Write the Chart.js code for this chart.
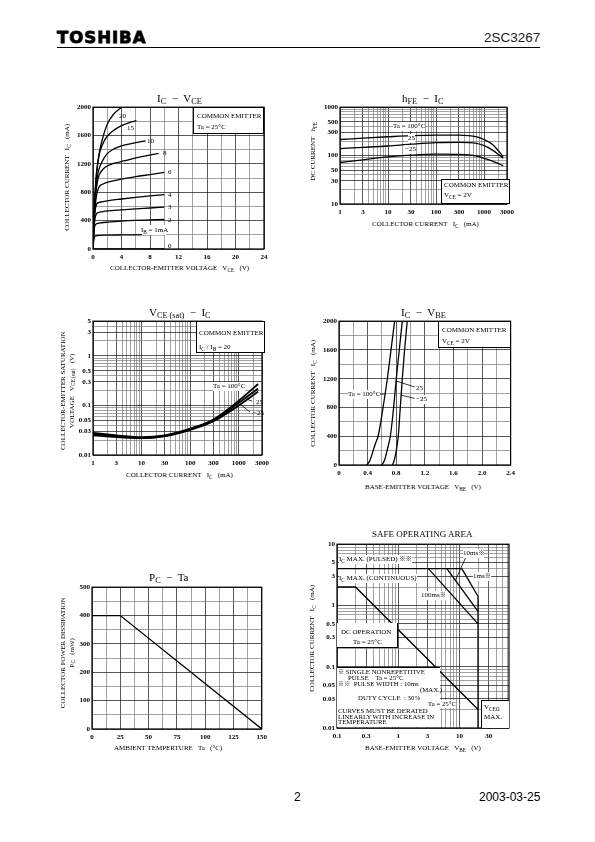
<!DOCTYPE html>
<html>
<head>
<meta charset="utf-8">
<script src="https://cdn.jsdelivr.net/npm/chart.js@4.4.1/dist/chart.umd.min.js"></script>
<style>
body { margin: 0; background: #fff; }
#page { position: relative; width: 595px; height: 842px; overflow: hidden; font-family: "Liberation Serif", serif; color: #000; background: #fff; filter: grayscale(1); }
canvas, .t, .bx { position: absolute; }
.t { white-space: nowrap; font-size: 7px; line-height: 1.25; text-align: center; }
sub { font-size: 0.75em; vertical-align: -0.3em; line-height: 0; }
.k { font-family: "Noto Sans CJK JP"; font-size: 0.9em; }
.bx { background: #fff; box-sizing: border-box; border: 1px solid #000; }
</style>
</head>
<body>
<div id="page"></div>
<script>
// ---- IC - VCE (Ta = 25C), [VCE (V), IC (mA)] per base current
const ib20 = [[0,0],[0.15,450],[0.3,800],[0.5,1080],[0.7,1240],[1.0,1420],[1.4,1580],[2.0,1760],[2.8,1890],[4.0,2000]];
const ib15 = [[0,0],[0.2,600],[0.4,950],[0.7,1230],[1.0,1380],[1.5,1510],[2.0,1590],[3.0,1680],[4.0,1740],[5.0,1780],[6.1,1810]];
const ib10 = [[0,0],[0.2,550],[0.4,850],[0.7,1070],[1.0,1170],[1.5,1275],[2.0,1345],[3.0,1415],[4.0,1455],[5.5,1490],[7.4,1525]];
const ib8 = [[0,0],[0.2,500],[0.4,790],[0.7,990],[1.0,1070],[1.5,1135],[2.0,1170],[3.0,1210],[4.5,1245],[6.5,1295],[9.2,1350]];
const ib6 = [[0,0],[0.2,450],[0.4,690],[0.7,840],[1.0,895],[1.5,920],[2.0,938],[4.0,985],[6.0,1020],[8.0,1050],[10.0,1080]];
const ib4 = [[0,0],[0.15,350],[0.3,545],[0.5,630],[0.8,655],[1.2,665],[2.0,680],[4.0,705],[6.0,728],[8.0,748],[10.0,768]];
const ib3 = [[0,0],[0.15,300],[0.3,440],[0.5,495],[0.8,515],[1.2,525],[2.0,537],[4.0,553],[6.0,567],[8.0,578],[10.0,590]];
const ib2 = [[0,0],[0.1,200],[0.2,300],[0.4,348],[0.7,362],[1.2,370],[2.0,378],[4.0,393],[6.0,403],[8.0,410],[10.0,417]];
const ib1 = [[0,0],[0.1,120],[0.2,165],[0.4,185],[0.8,191],[2.0,195],[4.0,198],[6.0,200],[8.0,202],[10.0,204]];
const ib0 = [[0,0],[10.0,0]];

// ---- hFE - IC (VCE = 2V)
const hfeIc = [1, 3, 10, 30, 100, 300, 700, 1000, 1500, 2000, 2500];
const hfe100 = [215, 230, 245, 258, 265, 265, 245, 215, 170, 125, 95];
const hfe25 = [140, 148, 158, 172, 185, 187, 178, 160, 130, 105, 88];
const hfeM25 = [72, 82, 94, 102, 107, 106, 98, 88, 77, 68, 62];

// ---- VCE(sat) - IC (IC/IB = 20)
const satIc = [1, 3, 10, 30, 100, 300, 1000, 2500];
const sat100 = [0.028, 0.025, 0.023, 0.025, 0.034, 0.052, 0.125, 0.27];
const sat25 = [0.026, 0.024, 0.022, 0.024, 0.033, 0.05, 0.113, 0.22];
const satM25 = [0.025, 0.023, 0.022, 0.024, 0.032, 0.048, 0.1, 0.19];

// ---- IC - VBE (VCE = 2V), [VBE (V), IC (mA)]
const vbe100 = [[0.385,0],[0.42,40],[0.45,110],[0.477,200],[0.51,300],[0.547,400],[0.616,800],[0.676,1200],[0.727,1600],[0.778,2000]];
const vbe25 = [[0.593,0],[0.625,40],[0.65,110],[0.672,200],[0.697,300],[0.718,400],[0.764,800],[0.801,1200],[0.843,1600],[0.885,2000]];
const vbeM25 = [[0.746,0],[0.765,40],[0.783,110],[0.801,200],[0.816,300],[0.829,400],[0.857,800],[0.885,1200],[0.917,1600],[0.954,2000]];

// ---- PC - Ta, [Ta (C), PC (mW)]
const pcDerate = [[0,400],[25,400],[150,0]];

// ---- safe operating area, [VCE (V), IC (A)]
const soaDc = [[0.1,2],[0.2,2],[20,0.02]];
const soaPulsed = [[0.1,4],[10.9,4]];
const soa100ms = [[3.1,4],[20,0.5]];
const soa10ms = [[6.2,4],[20,0.8]];
const soa1ms = [[10.9,4],[20,1.4]];
const soaVceo = [[20,1.4],[20,0.01]];

// tick labels
const vceTicks = ['0','4','8','12','16','20','24'];
const icTicks = ['0','400','800','1200','1600','2000'];
const logIcTicks = ['1','3','10','30','100','300','1000','3000'];
const hfeTicks = ['10','30','50','100','300','500','1000'];
const satTicks = ['0.01','0.03','0.05','0.1','0.3','0.5','1','3','5'];
const vbeTicks = ['0','0.4','0.8','1.2','1.6','2.0','2.4'];
const taTicks = ['0','25','50','75','100','125','150'];
const pcTicks = ['0','100','200','300','400','500'];
const soaVTicks = ['0.1','0.3','1','3','10','30'];
const soaITicks = ['0.01','0.03','0.05','0.1','0.3','0.5','1','3','5','10'];

const page = document.getElementById('page');
const tickFont = {family: 'Liberation Serif', size: 7, weight: 'bold'};
const L = 34, R = 8, T = 6, B = 16;
const KOME = '<span class="k">※</span>';

function near(a, b) { return Math.abs(a - b) <= 1e-9 * Math.max(1, Math.abs(a)); }
function lin(min, max, step) {
  const out = [];
  for (let v = min; v <= max + 1e-9; v += step) out.push(Math.round(v * 1000) / 1000);
  return out;
}
function logGrid(min, max) {
  const out = [];
  for (let e = Math.floor(Math.log10(min)); Math.pow(10, e) <= max; e++) {
    for (let m = 1; m <= 9; m++) {
      const v = Number((m * Math.pow(10, e)).toPrecision(6));
      if (v >= min - 1e-12 && v <= max + 1e-9) out.push(v);
    }
  }
  return out;
}
function pts(xs, ys) { return xs.map((x, i) => [x, ys[i]]); }

function axis(type, min, max, gridVals, labels, isX) {
  const vals = labels.map(Number);
  return {
    type, min, max,
    afterBuildTicks: s => { s.ticks = gridVals.map(v => ({value: v})); },
    afterFit: s => { if (isX) s.height = B; else s.width = L; },
    ticks: {
      autoSkip: false, maxRotation: 0, minRotation: 0,
      font: tickFont, color: '#000', padding: isX ? 4 : 2,
      callback: v => { const i = vals.findIndex(l => near(l, v)); return i < 0 ? '' : labels[i]; }
    },
    grid: {
      color: c => vals.some(l => near(l, c.tick.value)) ? '#111' : '#7a7a7a',
      lineWidth: 0.7,
      drawTicks: false
    },
    border: {display: false}
  };
}

const extras = {
  id: 'extras',
  afterDatasetsDraw(chart, args, opts) {
    const {ctx, chartArea: a} = chart;
    const x = chart.scales.x, y = chart.scales.y;
    ctx.save();
    ctx.strokeStyle = '#000';
    ctx.lineWidth = 0.8;
    (opts.leaders || []).forEach(([x1, y1, x2, y2]) => {
      ctx.beginPath();
      ctx.moveTo(x.getPixelForValue(x1), y.getPixelForValue(y1));
      ctx.lineTo(x.getPixelForValue(x2), y.getPixelForValue(y2));
      ctx.stroke();
    });
    ctx.lineWidth = 1.2;
    ctx.strokeRect(a.left, a.top, a.right - a.left, a.bottom - a.top);
    ctx.restore();
  }
};

function makeChart(p, xs, ys, series, leaders) {
  const c = document.createElement('canvas');
  const w = p.w + L + R, h = p.h + T + B;
  c.width = w; c.height = h;
  c.style.left = (p.x - L) + 'px';
  c.style.top = (p.y - T) + 'px';
  c.style.width = w + 'px';
  c.style.height = h + 'px';
  page.appendChild(c);
  return new Chart(c.getContext('2d'), {
    type: 'line',
    data: {
      datasets: series.map(s => ({
        data: s.pts.map(([a, b]) => ({x: a, y: b})),
        borderColor: '#000',
        borderWidth: s.w || 1.3,
        pointRadius: 0,
        fill: false,
        cubicInterpolationMode: s.smooth ? 'monotone' : 'default',
        tension: 0
      }))
    },
    options: {
      responsive: false, animation: false, devicePixelRatio: 1,
      layout: {padding: {left: 0, right: R, top: T, bottom: 0}},
      plugins: {legend: {display: false}, tooltip: {enabled: false}, extras: {leaders: leaders || []}},
      scales: {x: xs, y: ys}
    },
    plugins: [extras]
  });
}

function box(x1, y1, x2, y2, border) {
  const d = document.createElement('div');
  d.className = 'bx';
  d.style.left = x1 + 'px'; d.style.top = y1 + 'px';
  d.style.width = (x2 - x1) + 'px'; d.style.height = (y2 - y1) + 'px';
  if (border === false) d.style.border = 'none';
  else if (border) d.style.borderWidth = border;
  page.appendChild(d);
}

// text placed on whole pixels (no translate) so it stays crisp
function txt(x, y, html, o = {}) {
  const d = document.createElement('div');
  d.className = 't';
  d.innerHTML = html;
  if (o.size) d.style.fontSize = o.size + 'px';
  if (o.font) d.style.fontFamily = o.font;
  if (o.weight) d.style.fontWeight = o.weight;
  if (o.ls) d.style.letterSpacing = o.ls + 'px';
  if (o.color) d.style.color = o.color;
  if (o.stroke) d.style.webkitTextStroke = o.stroke + 'px #000';
  if (o.bg) d.style.background = '#fff';
  page.appendChild(d);
  const w = d.offsetWidth, h = d.offsetHeight;
  let left = x - w / 2;
  if (!o.rot && o.anchor === 'l') left = x;
  if (!o.rot && o.anchor === 'r') left = x - w;
  d.style.left = Math.round(left) + 'px';
  d.style.top = Math.round(y - h / 2) + 'px';
  if (o.rot) d.style.transform = 'rotate(-90deg)';
}

// ---------- chart 1: IC - VCE
const p1 = {x: 93, y: 107, w: 171, h: 142};
makeChart(p1,
  axis('linear', 0, 24, lin(0, 24, 2), vceTicks, true),
  axis('linear', 0, 2000, lin(0, 2000, 200), icTicks, false),
  [ib20, ib15, ib10, ib8, ib6, ib4, ib3, ib2, ib1, ib0].map(d => ({pts: d, smooth: true})));

// ---------- chart 2: hFE - IC
const p2 = {x: 340, y: 107, w: 170, h: 97};
makeChart(p2,
  axis('logarithmic', 1, 3000, logGrid(1, 3000), logIcTicks, true),
  axis('logarithmic', 10, 1000, logGrid(10, 1000), hfeTicks, false),
  [hfe100, hfe25, hfeM25].map(d => ({pts: pts(hfeIc, d), smooth: true})));

// ---------- chart 3: VCE(sat) - IC
const p3 = {x: 93, y: 321, w: 172, h: 134};
makeChart(p3,
  axis('logarithmic', 1, 3000, logGrid(1, 3000), logIcTicks, true),
  axis('logarithmic', 0.01, 5, logGrid(0.01, 5), satTicks, false),
  [sat100, sat25, satM25].map(d => ({pts: pts(satIc, d), smooth: true, w: 1.8})),
  [[1292, 0.14, 1876, 0.122], [1072, 0.106, 1710, 0.073]]);

// ---------- chart 4: IC - VBE
const p4 = {x: 339, y: 321, w: 172, h: 144};
makeChart(p4,
  axis('linear', 0, 2.4, lin(0, 2.4, 0.2), vbeTicks, true),
  axis('linear', 0, 2000, lin(0, 2000, 200), icTicks, false),
  [vbe100, vbe25, vbeM25].map(d => ({pts: d, smooth: true})),
  [[1.056, 1087, 0.802, 1167], [1.056, 926, 0.871, 972], [0.556, 986, 0.645, 986]]);

// ---------- chart 5: PC - Ta
const p5 = {x: 92, y: 587, w: 171, h: 142};
makeChart(p5,
  axis('linear', 0, 150, lin(0, 150, 12.5), taTicks, true),
  axis('linear', 0, 500, lin(0, 500, 50), pcTicks, false),
  [{pts: pcDerate}]);

// ---------- chart 6: safe operating area
const p6 = {x: 337, y: 544, w: 172, h: 184};
makeChart(p6,
  axis('logarithmic', 0.1, 64, logGrid(0.1, 64), soaVTicks, true),
  axis('logarithmic', 0.01, 10, logGrid(0.01, 10), soaITicks, false),
  [soaDc, soaPulsed, soa100ms, soa10ms, soa1ms, soaVceo].map(d => ({pts: d})),
  [[12.7, 6.2, 8.6, 2.6]]);

// ---------- header / footer
txt(57, 38, 'TOSHIBA', {anchor: 'l', size: 16.5, font: 'DejaVu Sans', weight: 'bold', ls: 1.0, stroke: 0.8});
txt(540, 38, '2SC3267', {anchor: 'r', size: 13.5, font: 'Liberation Sans', color: '#222'});
const rule = document.createElement('div');
rule.style.cssText = 'position:absolute;left:57px;top:47px;width:483px;height:0;border-top:1.3px solid #000;';
page.appendChild(rule);
txt(297, 797, '2', {size: 12, font: 'Liberation Sans'});
txt(540, 797, '2003-03-25', {anchor: 'r', size: 12, font: 'Liberation Sans'});

// ---------- chart 1 text
txt(179, 99, 'I<sub>C</sub> &nbsp;−&nbsp; V<sub>CE</sub>', {size: 11});
txt(179, 268, 'COLLECTOR-EMITTER VOLTAGE &nbsp; V<sub>CE</sub> &nbsp; (V)');
txt(67, 177, 'COLLECTOR CURRENT &nbsp; I<sub>C</sub> &nbsp; (mA)', {rot: true});
box(193, 107, 264, 134);
txt(197, 116, 'COMMON EMITTER', {anchor: 'l'});
txt(197, 127, 'Ta = 25°C', {anchor: 'l'});
txt(122, 116, '20'); txt(130, 128, '15'); txt(150, 141, '10'); txt(165, 153, '8');
txt(170, 172, '6'); txt(170, 195, '4'); txt(170, 207, '3'); txt(170, 220, '2');
box(142, 225, 166, 235, false);
txt(154, 230, 'I<sub>B</sub> = 1mA');
txt(170, 246, '0');

// ---------- chart 2 text
txt(423, 99, 'h<sub>FE</sub> &nbsp;−&nbsp; I<sub>C</sub>', {size: 11});
txt(425, 224, 'COLLECTOR CURRENT &nbsp; I<sub>C</sub> &nbsp; (mA)');
txt(313, 151, 'DC CURRENT &nbsp; h<sub>FE</sub>', {rot: true});
txt(409, 126, 'Ta = 100°C', {bg: true});
txt(411, 138, '25', {bg: true});
txt(410, 149, '−25', {bg: true});
box(441, 179, 510, 204);
txt(444, 185, 'COMMON EMITTER', {anchor: 'l'});
txt(444, 195, 'V<sub>CE</sub> = 2V', {anchor: 'l'});

// ---------- chart 3 text
txt(180, 313, 'V<sub>CE (sat)</sub> &nbsp;−&nbsp; I<sub>C</sub>', {size: 11});
txt(179, 475, 'COLLECTOR CURRENT &nbsp; I<sub>C</sub> &nbsp; (mA)');
txt(67, 391, 'COLLECTOR-EMITTER SATURATION<br>VOLTAGE &nbsp; V<sub>CE (sat)</sub> &nbsp; (V)', {rot: true});
box(196, 321, 265, 353);
txt(199, 333, 'COMMON EMITTER', {anchor: 'l'});
txt(199, 347, 'I<sub>C</sub> / I<sub>B</sub> = 20', {anchor: 'l'});
txt(229, 386, 'Ta = 100°C', {bg: true});
txt(259, 402, '25');
txt(258, 413, '−25');

// ---------- chart 4 text
txt(423, 313, 'I<sub>C</sub> &nbsp;−&nbsp; V<sub>BE</sub>', {size: 11});
txt(423, 487, 'BASE-EMITTER VOLTAGE &nbsp; V<sub>BE</sub> &nbsp; (V)');
txt(313, 393, 'COLLECTOR CURRENT &nbsp; I<sub>C</sub> &nbsp; (mA)', {rot: true});
box(438, 321, 511, 348);
txt(442, 330, 'COMMON EMITTER', {anchor: 'l'});
txt(442, 341, 'V<sub>CE</sub> = 2V', {anchor: 'l'});
txt(364, 394, 'Ta = 100°C', {bg: true});
txt(419, 388, '25', {bg: true});
txt(421, 399, '−25', {bg: true});

// ---------- chart 5 text
txt(168, 578, 'P<sub>C</sub> &nbsp;−&nbsp; Ta', {size: 11});
txt(168, 748, 'AMBIENT TEMPERTURE &nbsp; Ta &nbsp; (°C)');
txt(67, 653, 'COLLECTOR POWER DISSIPATION<br>P<sub>C</sub> &nbsp; (mW)', {rot: true});

// ---------- chart 6 text
txt(422, 534, 'SAFE OPERATING AREA', {size: 9});
txt(423, 748, 'BASE-EMITTER VOLTAGE &nbsp; V<sub>BE</sub> &nbsp; (V)');
txt(312, 638, 'COLLECTOR CURRENT &nbsp; I<sub>C</sub> &nbsp; (mA)', {rot: true});
txt(339, 559, 'I<sub>C</sub> MAX. (PULSED) ' + KOME + KOME, {anchor: 'l', bg: true});
txt(339, 578, 'I<sub>C</sub> MAX. (CONTINUOUS)', {anchor: 'l', bg: true});
txt(473, 553, '10ms' + KOME, {bg: true});
txt(482, 576, '1ms' + KOME, {bg: true});
txt(433, 595, '100ms' + KOME, {bg: true});
box(337, 623, 398, 648, '0 1px 1px 0');
txt(341, 632, 'DC OPERATION', {anchor: 'l'});
txt(353, 642, 'Ta = 25°C', {anchor: 'l'});
box(337, 667, 440, 727, '1px 0 0 0');
box(426, 700, 455, 708, false);
const n = {anchor: 'l', size: 6.8};
txt(338, 672, KOME + ' SINGLE NONREPETITIVE', n);
txt(348, 678, 'PULSE &nbsp;&nbsp; Ta = 25°C', n);
txt(338, 684, KOME + KOME + ' &nbsp;PULSE WIDTH : 10ms', n);
txt(420, 690, '(MAX.)', n);
txt(358, 698, 'DUTY CYCLE &nbsp;: 30%', n);
txt(428, 704, 'Ta = 25°C', n);
txt(338, 711, 'CURVES MUST BE DERATED', n);
txt(338, 717, 'LINEARLY WITH INCREASE IN', n);
txt(338, 722, 'TEMPERATURE', n);
box(481, 700, 509, 728, '1px 0 0 1px');
txt(484, 707, 'V<sub>CEO</sub>', {anchor: 'l'});
txt(484, 717, 'MAX.', {anchor: 'l'});
</script>
</body>
</html>
